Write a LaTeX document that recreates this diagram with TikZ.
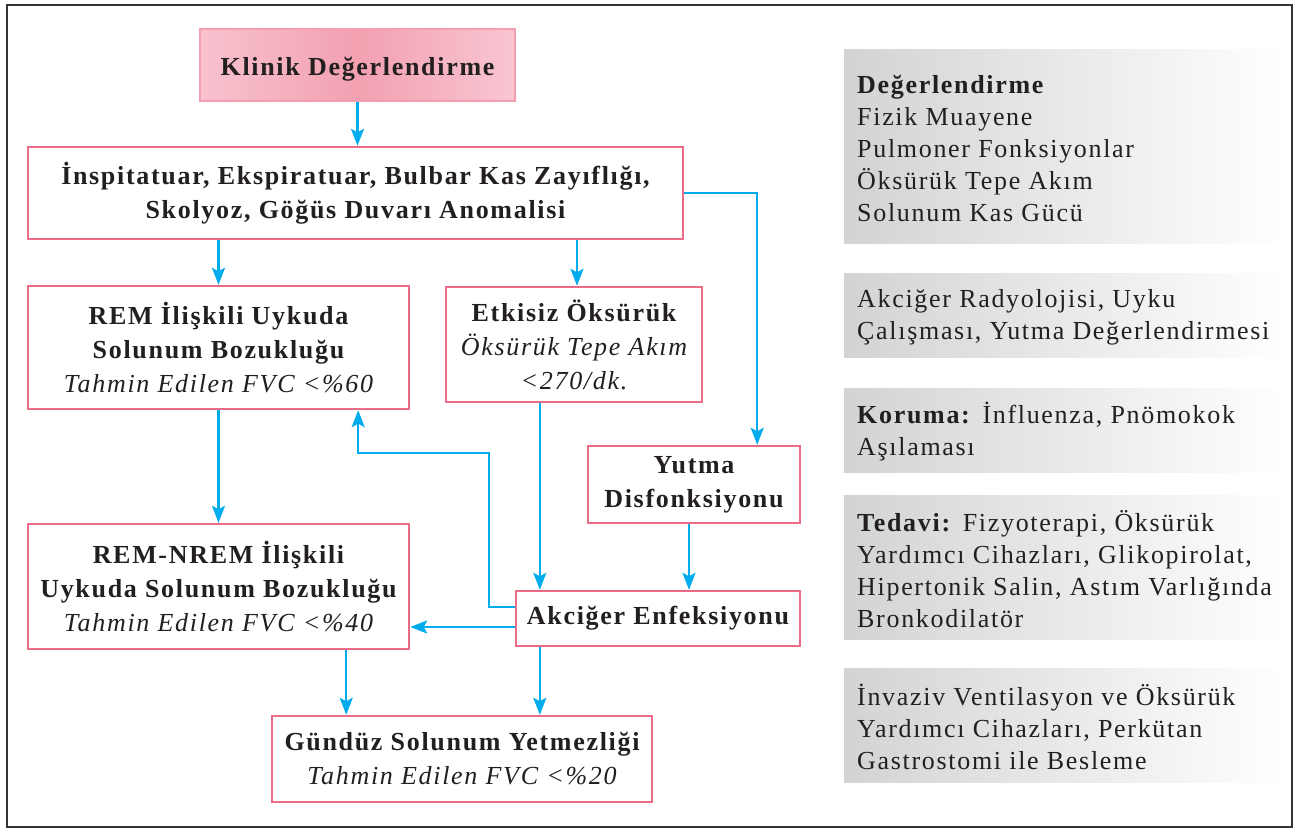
\documentclass[tikz,border=0pt]{standalone}
\usepackage{fontspec}
\setmainfont{Liberation Serif}[LetterSpace=6.5]
\usetikzlibrary{arrows.meta,calc}
\definecolor{pinkb}{RGB}{236,108,135}
\definecolor{cyanarr}{RGB}{0,172,236}
\definecolor{txt}{RGB}{35,31,32}
\definecolor{frame}{RGB}{51,51,51}
\definecolor{kl}{RGB}{248,194,206}
\definecolor{km}{RGB}{242,160,176}
\definecolor{kr}{RGB}{249,198,210}
\definecolor{kb}{RGB}{244,158,176}
\definecolor{gl}{RGB}{210,211,213}
\tikzset{
  box/.style={draw=pinkb, line width=2.4pt, fill=white, align=center, inner sep=0pt,
    text=txt, font=\fontsize{26}{34}\selectfont},
  kbox/.style={draw=kb, line width=2pt, left color=kl, right color=kr, middle color=km,
    align=center, inner sep=0pt, text=txt, font=\fontsize{26}{34}\selectfont\bfseries},
  gbox/.style={anchor=west, inner sep=0pt, minimum width=440pt, left color=gl, right color=white},
  gtext/.style={anchor=west, align=left, inner sep=0pt, text=txt, font=\fontsize{26}{32}\selectfont},
  arr/.style={draw=cyanarr, line width=2.2pt, -{Stealth[length=17pt,width=13pt,inset=3.5pt]}},
}
\begin{document}
\begin{tikzpicture}[x=1pt,y=-1pt]
\useasboundingbox (0,0) rectangle (1297,829);
\draw[frame, line width=2pt] (7,5) rectangle (1292,827);

% flow nodes
\node[kbox, minimum width=315pt, minimum height=72pt] (klinik) at (357.5,65)
  {\raisebox{-4pt}[\height][\depth]{Klinik Değerlendirme}};
\node[box, minimum width=655pt, minimum height=92pt] (weak) at (355.5,193)
  {\bfseries İnspitatuar, Ekspiratuar, Bulbar Kas Zayıflığı,\\ \bfseries Skolyoz, Göğüs Duvarı Anomalisi};
\node[box, minimum width=381pt, minimum height=123pt] (rem) at (218.5,347.5)
  {\bfseries REM İlişkili Uykuda\\ \bfseries Solunum Bozukluğu\\ \itshape Tahmin Edilen FVC <\%60};
\node[box, minimum width=256pt, minimum height=115pt] (etk) at (574,344.5)
  {\bfseries Etkisiz Öksürük\\ \itshape Öksürük Tepe Akım\\ \itshape <270/dk.};
\node[box, minimum width=212pt, minimum height=77pt] (yut) at (694,484.5)
  {\bfseries Yutma\\ \bfseries Disfonksiyonu};
\node[box, minimum width=284pt, minimum height=55pt] (akc) at (658,618.5)
  {\bfseries Akciğer Enfeksiyonu};
\node[box, minimum width=381pt, minimum height=125pt] (nrem) at (218.5,586.5)
  {\bfseries REM-NREM İlişkili\\ \bfseries Uykuda Solunum Bozukluğu\\ \itshape Tahmin Edilen FVC <\%40};
\node[box, minimum width=380pt, minimum height=86pt] (gun) at (462,759)
  {\bfseries Gündüz Solunum Yetmezliği\\ \itshape Tahmin Edilen FVC <\%20};

% connectors
\draw[arr] (klinik.south) -- (klinik.south |- weak.north);
\draw[arr] (rem.north |- weak.south) -- (rem.north);
\draw[arr] ([xshift=3pt]etk.north |- weak.south) -- ([xshift=3pt]etk.north);
\draw[arr] (weak.east) -| ([xshift=-44pt]yut.north east);
\draw[arr] ([xshift=25pt]akc.north west |- etk.south) -- ([xshift=25pt]akc.north west);
\draw[arr] ([xshift=-5pt]yut.south) -- ([xshift=-5pt]yut.south |- akc.north);
\coordinate (fb) at (489,453);
\draw[arr] ([yshift=-17pt]akc.north west) -| (fb) -| ([xshift=-52pt]rem.south east);
\draw[arr] ([yshift=-8.5pt]akc.west) -- ([yshift=-8.5pt]akc.west -| nrem.east);
\draw[arr] (rem.south) -- (nrem.north);
\draw[arr] ([xshift=-64pt]nrem.south east) -- ([xshift=-64pt]nrem.south east |- gun.north);
\draw[arr] ([xshift=25pt]akc.south west) -- ([xshift=25pt]akc.south west |- gun.north);

% right side grey boxes
\node[gbox, minimum height=193pt] (g1) at (844,146.5) {};
\node[gtext] (t1) at ([xshift=13pt,yshift=-2pt]g1.west)
  {\bfseries Değerlendirme\\ Fizik Muayene\\ Pulmoner Fonksiyonlar\\ Öksürük Tepe Akım\\ Solunum Kas Gücü};
\node[gbox, minimum height=84pt] (g2) at (844,315) {};
\node[gtext] (t2) at ([xshift=13pt,yshift=-2pt]g2.west)
  {Akciğer Radyolojisi, Uyku\\ Çalışması, Yutma Değerlendirmesi};
\node[gbox, minimum height=84pt] (g3) at (844,430) {};
\node[gtext] (t3) at ([xshift=13pt,yshift=-2pt]g3.west)
  {\textbf{Koruma:} İnfluenza, Pnömokok\\ Aşılaması};
\node[gbox, minimum height=144pt] (g4) at (844,567) {};
\node[gtext] (t4) at ([xshift=13pt,yshift=-2pt]g4.west)
  {\textbf{Tedavi:} Fizyoterapi, Öksürük\\ Yardımcı Cihazları, Glikopirolat,\\ Hipertonik Salin, Astım Varlığında\\ Bronkodilatör};
\node[gbox, minimum height=114pt] (g5) at (844,725) {};
\node[gtext] (t5) at ([xshift=13pt,yshift=-2pt]g5.west)
  {İnvaziv Ventilasyon ve Öksürük\\ Yardımcı Cihazları, Perkütan\\ Gastrostomi ile Besleme};
\end{tikzpicture}
\end{document}
